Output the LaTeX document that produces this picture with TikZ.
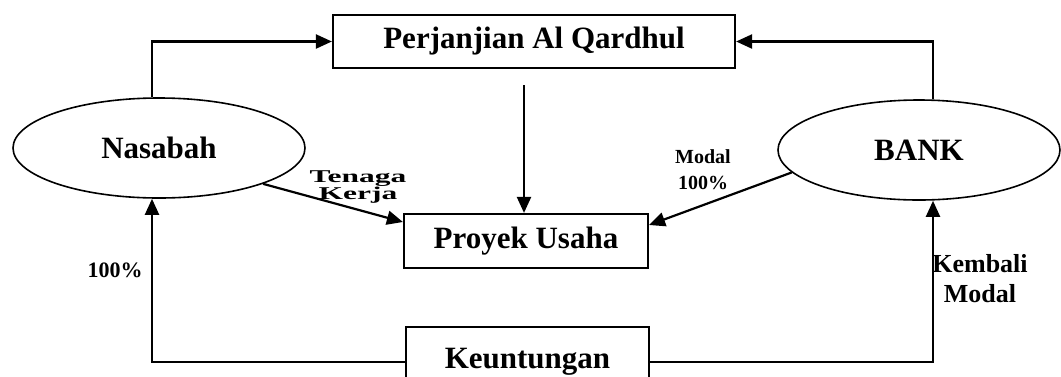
\documentclass[tikz,border=0pt]{standalone}
\usepackage{fontspec}
\setmainfont{Liberation Serif}
\usepackage{tikz}
\usetikzlibrary{shapes.geometric,arrows.meta,positioning}

\begin{document}
\begin{tikzpicture}[x=1pt, y=-1pt,
  box/.style={rectangle, draw, line width=2.2pt, inner sep=0pt,
    font=\fontsize{31}{34}\selectfont\bfseries},
  pihak/.style={ellipse, draw, line width=1.6pt, inner sep=0pt,
    font=\fontsize{31}{34}\selectfont\bfseries},
  ket/.style={align=center, inner sep=0pt},
  arr/.style={-{Triangle[length=16pt,width=14pt]}, line width=2.2pt}
]
\useasboundingbox (0,0) rectangle (1061,376);

\node[box, minimum width=402pt, minimum height=53pt] (akad) at (534,41.5) {Perjanjian Al Qardhul};
\node[pihak, minimum width=292pt, minimum height=100pt] (nasabah) at (159,148) {Nasabah};
\node[pihak, minimum width=282pt, minimum height=100pt] (bank) at (919,150) {BANK};
\node[box, minimum width=244pt, minimum height=54pt] (proyek) at (526,241) {Proyek Usaha};
\node[box, minimum width=243pt, minimum height=70pt] (untung) at (527.5,362) {Keuntungan};

\draw[arr] ([xshift=-7pt]nasabah.north) |- (akad.west);
\draw[arr] ([xshift=14pt]bank.north) |- (akad.east);
\draw[arr, shorten <=16pt] ([xshift=-10pt]akad.south) -- ([xshift=-2pt]proyek.north);
\draw[arr] (nasabah.-19) -- ([yshift=19pt]proyek.west);
\draw[arr] (bank.190) -- ([yshift=16pt]proyek.east);
\draw[arr] (untung.west) -| ([xshift=-7pt]nasabah.south);
\draw[arr] (untung.east) -| ([xshift=14pt]bank.south);

% keterangan
\node[ket, font=\fontsize{18}{15}\selectfont\bfseries] (tenaga) at (358,187)
  {\scalebox{1.75}[1]{Tenaga}\\\scalebox{1.75}[1]{Kerja}};
\node[ket, font=\fontsize{20}{26}\selectfont\bfseries] (modal) at (703,170) {Modal\\100\%};
\node[ket, font=\fontsize{22}{26}\selectfont\bfseries] (persen) at (115,270) {100\%};
\node[ket, font=\fontsize{26}{30}\selectfont\bfseries] (kembali) at (980,279) {Kembali\\Modal};
\end{tikzpicture}
\end{document}
